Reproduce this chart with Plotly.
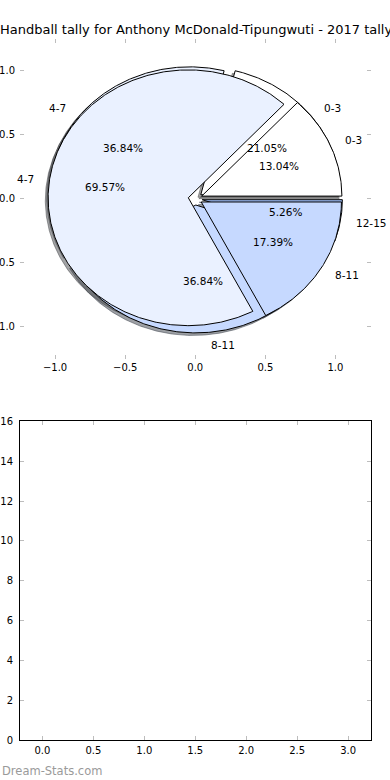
import numpy as np
import plotly.graph_objects as go

# ---------------- data ----------------
title_text = "Handball tally for Anthony McDonald-Tipungwuti - 2017 tally"
labels_a = ["0-3", "4-7", "8-11", "12-15"]
values_a = [4, 7, 7, 1]
labels_b = ["0-3", "4-7", "8-11"]
values_b = [3, 16, 4]
slice_colors = {"0-3": "#ffffff", "4-7": "#eaf1ff", "8-11": "#c6d9ff", "12-15": "#9dbcf5"}
pie_ticks = [-1.0, -0.5, 0.0, 0.5, 1.0]
bar_xticks = [0.0, 0.5, 1.0, 1.5, 2.0, 2.5, 3.0]
bar_yticks = [0, 2, 4, 6, 8, 10, 12, 14, 16]
watermark = "Dream-Stats.com"

# ---------------- style ----------------
W, H = 390, 780
EXPLODE = 0.05
RADIUS = 1.0
SH_DX, SH_DY = -0.02, -0.02
FONT = "DejaVu Sans"
TICKC = "#bdbdbd"

def hex_rgb(h):
    h = h.lstrip("#")
    return tuple(int(h[i:i + 2], 16) for i in (0, 2, 4))

def make_wedges(values, labels):
    total = float(sum(values))
    out, t1 = [], 0.0
    for v, lab in zip(values, labels):
        frac = v / total
        t2 = t1 + frac
        tm = np.pi * (t1 + t2)
        out.append(dict(label=lab, frac=frac, t1=t1, t2=t2, tm=tm,
                        cx=EXPLODE * np.cos(tm), cy=EXPLODE * np.sin(tm)))
        t1 = t2
    return out

def wedge_xy(w, dx=0.0, dy=0.0):
    n = max(int(720 * w["frac"]), 4)
    th = np.linspace(2 * np.pi * w["t1"], 2 * np.pi * w["t2"], n)
    xs = np.concatenate([[w["cx"]], w["cx"] + RADIUS * np.cos(th), [w["cx"]]]) + dx
    ys = np.concatenate([[w["cy"]], w["cy"] + RADIUS * np.sin(th), [w["cy"]]]) + dy
    return xs, ys

pies = [make_wedges(values_a, labels_a), make_wedges(values_b, labels_b)]

fig = go.Figure()

# shadows (drawn beneath all wedges)
for pie in pies:
    for w in pie:
        r, g, b = hex_rgb(slice_colors[w["label"]])
        col = "rgba(%d,%d,%d,0.5)" % (0.3 * r, 0.3 * g, 0.3 * b)
        xs, ys = wedge_xy(w, SH_DX, SH_DY)
        fig.add_trace(go.Scatter(x=xs, y=ys, mode="lines", fill="toself",
                                 fillcolor=col, line=dict(color=col, width=1),
                                 hoverinfo="skip", showlegend=False,
                                 xaxis="x", yaxis="y"))

# wedges
for pie in pies:
    for w in pie:
        xs, ys = wedge_xy(w)
        fig.add_trace(go.Scatter(x=xs, y=ys, mode="lines", fill="toself",
                                 fillcolor=slice_colors[w["label"]],
                                 line=dict(color="black", width=1),
                                 hoverinfo="skip", showlegend=False,
                                 xaxis="x", yaxis="y"))

annotations = []
for pie in pies:
    for w in pie:
        lx = w["cx"] + 1.1 * RADIUS * np.cos(w["tm"])
        ly = w["cy"] + 1.1 * RADIUS * np.sin(w["tm"])
        annotations.append(dict(x=lx, y=ly, xref="x", yref="y", text=w["label"],
                                showarrow=False, xanchor="left" if lx > 0 else "right",
                                yanchor="middle", font=dict(size=10.5, color="black", family=FONT)))
        px = w["cx"] + 0.6 * RADIUS * np.cos(w["tm"])
        py = w["cy"] + 0.6 * RADIUS * np.sin(w["tm"])
        annotations.append(dict(x=px, y=py, xref="x", yref="y",
                                text="%.2f%%" % (100 * w["frac"]),
                                showarrow=False, xanchor="center", yanchor="middle",
                                font=dict(size=10.5, color="black", family=FONT)))

# empty bottom axes placeholder trace
fig.add_trace(go.Scatter(x=[], y=[], xaxis="x2", yaxis="y2", showlegend=False))

annotations.append(dict(x=195.5 / W, y=1 - 30 / H, xref="paper", yref="paper", text=title_text,
                        showarrow=False, xanchor="center", yanchor="middle",
                        font=dict(size=13, color="black", family=FONT)))
annotations.append(dict(x=0, y=1 - 771 / H, xref="paper", yref="paper", text=watermark,
                        showarrow=False, xanchor="left", yanchor="middle",
                        font=dict(size=11.5, color="#9a9a9a", family=FONT)))

ax_l, ax_r = 20 / W, 370.5 / W
top_dom = [1 - 358.5 / H, 1 - 38.8 / H]
bot_dom = [1 - 740.3 / H, 1 - 421.3 / H]

common_tick = dict(ticks="inside", ticklen=4, tickwidth=1, tickcolor=TICKC,
                   showgrid=False, zeroline=False, automargin=False,
                   tickfont=dict(size=10, color="black", family=FONT))

fig.update_layout(
    width=W, height=H, autosize=False,
    margin=dict(l=0, r=0, t=0, b=0, pad=0),
    paper_bgcolor="white", plot_bgcolor="white",
    template="none", showlegend=False,
    xaxis=dict(domain=[ax_l, ax_r], range=[-1.25, 1.25], tickvals=pie_ticks,
               tickformat=".1f", showline=False, mirror="ticks", anchor="y",
               ticklabelstandoff=1, **common_tick),
    yaxis=dict(domain=top_dom, range=[-1.25, 1.25], tickvals=pie_ticks,
               tickformat=".1f", showline=False, mirror="ticks", anchor="x",
               ticklabelstandoff=4, **common_tick),
    xaxis2=dict(domain=[ax_l, ax_r], range=[-0.22, 3.22], tickvals=bar_xticks,
                tickformat=".1f", showline=True, linecolor="black", linewidth=1,
                mirror="ticks", anchor="y2", ticklabelstandoff=1, **common_tick),
    yaxis2=dict(domain=bot_dom, range=[0, 16], tickvals=bar_yticks,
                tickformat="d", showline=True, linecolor="black", linewidth=1,
                mirror="ticks", anchor="x2", ticklabelstandoff=4, **common_tick),
    annotations=annotations,
)

fig.write_html("out.html", config={"displayModeBar": False},
               post_script="document.body.style.margin='0';")
